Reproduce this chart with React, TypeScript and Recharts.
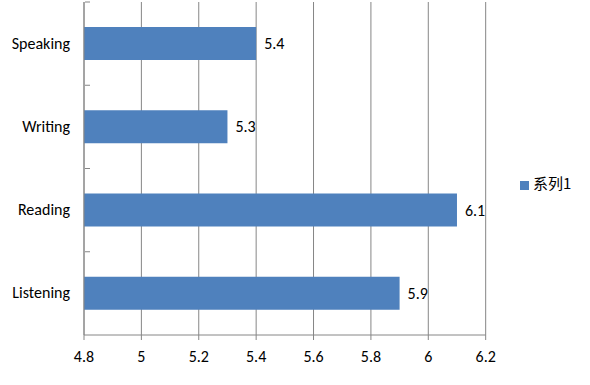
import { BarChart, Bar, XAxis, YAxis, CartesianGrid, Legend, LabelList } from "recharts"

const skills = ["Speaking", "Writing", "Reading", "Listening"]
const scores = [5.4, 5.3, 6.1, 5.9]
const xTicks = [4.8, 5, 5.2, 5.4, 5.6, 5.8, 6, 6.2]

const data = skills.map((name, i) => ({ name, value: scores[i] }))

const font = "Calibri, Carlito, 'Open Sans', sans-serif"
const gray = "#868686"

// category tick: label at the band centre, tick mark at the band's top edge
const CategoryTick = (props: any) => {
  const { x, y, payload } = props
  const half = 83.25 / 2
  return (
    <g>
      <line x1={x + 9} x2={x + 14} y1={y - half} y2={y - half} stroke={gray} />
      <text x={x - 6} y={y} dy={5} textAnchor="end" fill="#000" fontSize={16} fontFamily={font}>
        {payload.value}
      </text>
    </g>
  )
}

export default function App() {
  return (
    <div style={{ position: "absolute", left: 0, top: 0, background: "#fff" }}>
      <BarChart
        width={590}
        height={385}
        data={data}
        layout="vertical"
        margin={{ top: 2, right: 43, bottom: 20, left: 0 }}
        barCategoryGap="30%"
      >
        <CartesianGrid horizontal={false} stroke={gray} />
        <XAxis
          type="number"
          domain={[4.8, 6.2]}
          ticks={xTicks}
          interval={0}
          stroke={gray}
          tickSize={5}
          tickMargin={11}
          height={30}
          tick={{ fill: "#000", fontSize: 16, fontFamily: font }}
        />
        <YAxis
          type="category"
          dataKey="name"
          width={84}
          stroke={gray}
          tickLine={false}
          tick={<CategoryTick />}
        />
        <Legend
          layout="vertical"
          align="right"
          verticalAlign="middle"
          iconType="square"
          iconSize={9}
          formatter={(v: string) => (
            <span style={{ color: "#000", fontSize: 15, fontFamily: "'Noto Sans CJK SC', sans-serif" }}>{v}</span>
          )}
          wrapperStyle={{ left: 520, right: "auto", top: 172 }}
        />
        <Bar dataKey="value" name="系列1" fill="#4F81BD" isAnimationActive={false}>
          <LabelList dataKey="value" position="right" offset={8} fill="#000" fontSize={16} fontFamily={font} />
        </Bar>
      </BarChart>
    </div>
  )
}
